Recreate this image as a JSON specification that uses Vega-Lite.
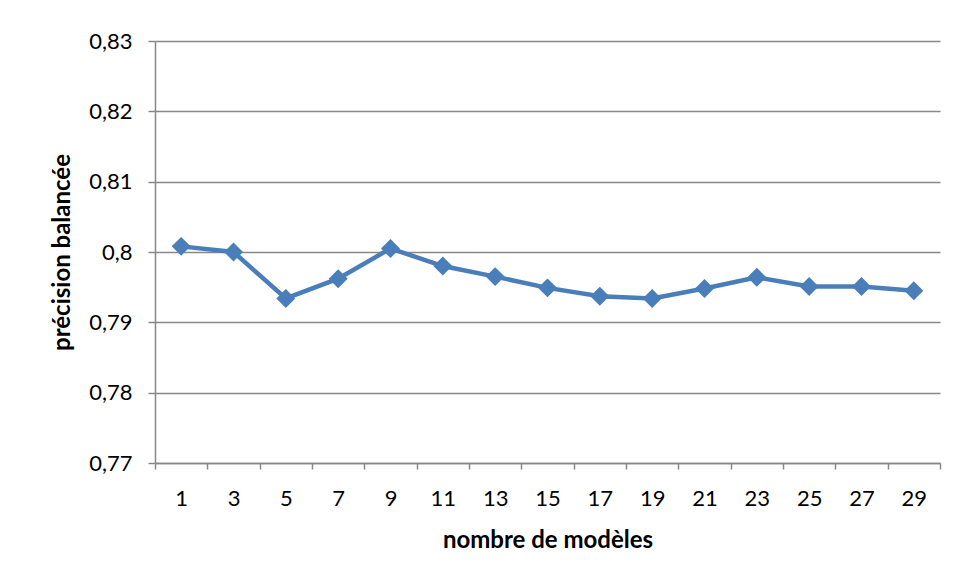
{
  "$schema": "https://vega.github.io/schema/vega-lite/v6.json",
  "autosize": "none",
  "width": 785,
  "height": 422,
  "padding": {"left": 155, "top": 41, "right": 16, "bottom": 118},
  "background": "white",
  "config": {
    "view": {"stroke": null},
    "font": "Lato",
    "axis": {
      "labelFont": "Lato",
      "titleFont": "Lato",
      "labelFontSize": 22,
      "titleFontSize": 24,
      "labelColor": "#000000",
      "titleColor": "#000000",
      "domainColor": "#888888",
      "tickColor": "#888888",
      "gridColor": "#888888",
      "domainWidth": 1.5,
      "tickWidth": 1.5,
      "gridWidth": 1.5
    }
  },
  "data": {
    "values": [
      {"n": "1", "precision": 0.8008},
      {"n": "3", "precision": 0.8000},
      {"n": "5", "precision": 0.7934},
      {"n": "7", "precision": 0.7962},
      {"n": "9", "precision": 0.8005},
      {"n": "11", "precision": 0.7980},
      {"n": "13", "precision": 0.7965},
      {"n": "15", "precision": 0.7949},
      {"n": "17", "precision": 0.7937},
      {"n": "19", "precision": 0.7934},
      {"n": "21", "precision": 0.7948},
      {"n": "23", "precision": 0.7964},
      {"n": "25", "precision": 0.7951},
      {"n": "27", "precision": 0.7951},
      {"n": "29", "precision": 0.7945}
    ]
  },
  "encoding": {
    "x": {
      "field": "n",
      "type": "ordinal",
      "sort": null,
      "bandPosition": 0.5,
      "scale": {"type": "band", "paddingInner": 0, "paddingOuter": 0},
      "axis": {
        "title": "nombre de modèles",
        "labelAngle": 0,
        "tickBand": "extent",
        "tickSize": 6,
        "labelPadding": 19,
        "titlePadding": 19,
        "grid": false
      }
    },
    "y": {
      "field": "precision",
      "type": "quantitative",
      "scale": {"domain": [0.77, 0.83], "nice": false, "zero": false},
      "axis": {
        "title": "précision balancée",
        "values": [0.77, 0.78, 0.79, 0.8, 0.81, 0.82, 0.83],
        "labelExpr": "replace(format(datum.value, '.2~f'), '.', ',')",
        "tickSize": 7,
        "labelPadding": 16,
        "titlePadding": 14,
        "grid": true
      }
    }
  },
  "layer": [
    {"mark": {"type": "line", "color": "#4a7ebb", "strokeWidth": 4.5}},
    {"mark": {"type": "point", "shape": "diamond", "filled": true, "color": "#4a7ebb", "opacity": 1, "size": 360}}
  ]
}
